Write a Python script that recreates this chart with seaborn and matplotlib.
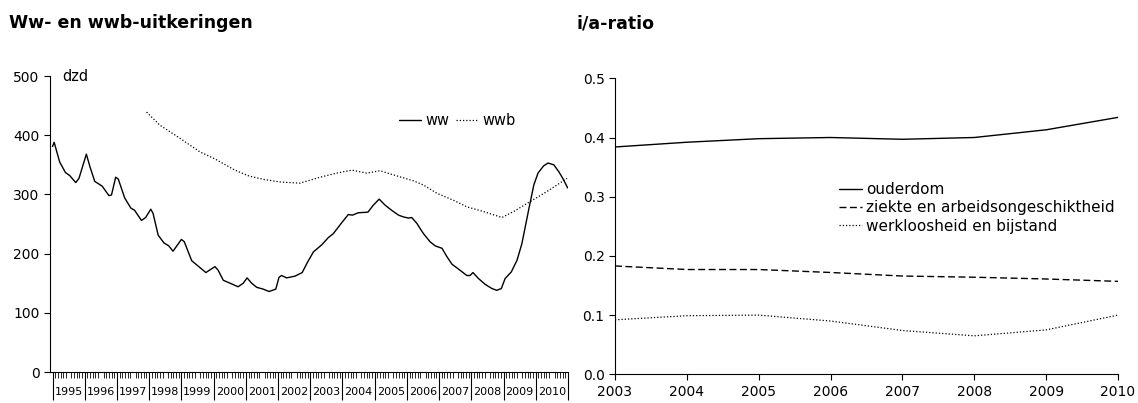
import numpy as np
import pandas as pd
import matplotlib
matplotlib.use("Agg")
import matplotlib.pyplot as plt
from matplotlib.ticker import FixedLocator, NullLocator
import seaborn as sns

# ww (monthly, read at turning points), decimal years / dzd
ww_t = [1995.00, 1995.05, 1995.22, 1995.40, 1995.53, 1995.72, 1995.82,
        1996.05, 1996.16, 1996.31, 1996.54, 1996.75, 1996.83, 1996.96,
        1997.04, 1997.24, 1997.43, 1997.55, 1997.76, 1997.89,
        1998.05, 1998.12, 1998.28, 1998.46, 1998.61, 1998.74,
        1999.00, 1999.09, 1999.32, 1999.54, 1999.76,
        2000.04, 2000.14, 2000.30, 2000.51, 2000.76, 2000.92,
        2001.04, 2001.18, 2001.34, 2001.54, 2001.72, 2001.93,
        2002.03, 2002.11, 2002.27, 2002.53, 2002.75, 2002.92,
        2003.10, 2003.36, 2003.56, 2003.72, 2003.96,
        2004.18, 2004.31, 2004.49, 2004.79, 2004.96,
        2005.14, 2005.32, 2005.53, 2005.74, 2005.89,
        2006.05, 2006.15, 2006.31, 2006.51, 2006.72, 2006.88,
        2007.09, 2007.24, 2007.40, 2007.60, 2007.86, 2007.96,
        2008.05, 2008.22, 2008.43, 2008.64, 2008.79, 2008.93,
        2009.05, 2009.24, 2009.42, 2009.57, 2009.78, 2009.94,
        2010.07, 2010.24, 2010.38, 2010.56, 2010.72, 2010.87, 2010.99]
ww_v = [381, 388, 355, 337, 332, 320, 327,
        368, 347, 322, 314, 298, 299, 329,
        326, 294, 277, 273, 256, 261,
        275, 268, 231, 218, 213, 204,
        224, 220, 188, 178, 168,
        178, 172, 155, 150, 144, 150,
        159, 150, 143, 140, 136, 140,
        160, 163, 159, 162, 168, 186,
        203, 215, 227, 234, 251,
        266, 265, 269, 270, 282,
        292, 282, 273, 265, 262,
        260, 261, 251, 234, 220, 213,
        209, 195, 182, 174, 163, 163,
        168, 158, 148, 141, 138, 141,
        158, 169, 189, 217, 274, 316,
        336, 348, 353, 350, 338, 324, 311]

wwb_t = [1997.92, 1998.33, 1998.95, 1999.57, 2000.04, 2000.66, 2001.10,
         2001.59, 2002.06, 2002.68, 2003.30, 2003.82, 2004.29, 2004.75,
         2005.17, 2005.58, 2006.20, 2006.51, 2006.93, 2007.45, 2007.86,
         2008.38, 2008.95, 2009.31, 2009.83, 2010.35, 2010.97]
wwb_v = [439, 417, 395, 372, 360, 341, 331,
         325, 321, 319, 329, 336, 341, 336,
         340, 333, 323, 316, 302, 290, 279,
         271, 261, 271, 288, 305, 327]

# i/a-ratio
jaren = [2003, 2004, 2005, 2006, 2007, 2008, 2009, 2010]
ouderdom = [0.384, 0.392, 0.398, 0.400, 0.397, 0.400, 0.413, 0.434]
ziekte = [0.183, 0.177, 0.177, 0.172, 0.166, 0.164, 0.161, 0.157]
werkloosheid = [0.092, 0.099, 0.100, 0.090, 0.074, 0.065, 0.075, 0.100]

sns.set_style("ticks", {"axes.edgecolor": "black", "text.color": "black",
                        "xtick.color": "black", "ytick.color": "black",
                        "axes.labelcolor": "black"})
plt.rcParams["font.family"] = ["DejaVu Sans"]

fig = plt.figure(figsize=(11.38, 4.03), dpi=100)
ax1 = fig.add_axes([0.0439, 0.0769, 0.4552, 0.7345])
ax2 = fig.add_axes([0.5404, 0.0712, 0.4420, 0.7345])

# --- left panel ---
sns.lineplot(x=ww_t, y=ww_v, ax=ax1, color="black", lw=1.0, label="ww", sort=False)
sns.lineplot(x=wwb_t, y=wwb_v, ax=ax1, color="black", lw=0.9,
             linestyle=(0, (1, 1.6)), label="wwb", sort=False)
ax1.set_xlim(1994.92, 2011.0)
ax1.set_ylim(0, 500)
ax1.set_yticks([0, 100, 200, 300, 400, 500])
ax1.tick_params(axis="y", labelsize=10, length=4, width=0.8, direction="out")

jr = np.arange(1995, 2011)
ax1.xaxis.set_major_locator(FixedLocator(jr + 0.5))
ax1.set_xticklabels([str(j) for j in jr])
ax1.xaxis.set_minor_locator(FixedLocator(np.arange(1995, 2011, 1 / 12)))
ax1.tick_params(axis="x", which="major", length=0, pad=11, labelsize=8)
ax1.tick_params(axis="x", which="minor", length=4, width=0.6, direction="out")

sec = ax1.secondary_xaxis("bottom")
sec.xaxis.set_major_locator(FixedLocator(np.arange(1995, 2012)))
sec.xaxis.set_minor_locator(NullLocator())
sec.tick_params(axis="x", length=20, width=0.8, labelbottom=False)
sec.spines["bottom"].set_visible(False)

ax1.set_xlabel("")
ax1.set_ylabel("")
ax1.text(0.023, 1.0, "dzd", transform=ax1.transAxes, fontsize=10.5, va="center", ha="left")
ax1.legend(loc="center", bbox_to_anchor=(0.786, 0.851), ncol=2, frameon=False,
           fontsize=10.5, handlelength=1.5, handletextpad=0.3, columnspacing=0.45)
sns.despine(ax=ax1)

# --- right panel ---
sns.lineplot(x=jaren, y=ouderdom, ax=ax2, color="black", lw=1.0, label="ouderdom")
sns.lineplot(x=jaren, y=ziekte, ax=ax2, color="black", lw=1.0,
             linestyle=(0, (5, 2.5)), label="ziekte en arbeidsongeschiktheid")
sns.lineplot(x=jaren, y=werkloosheid, ax=ax2, color="black", lw=0.9,
             linestyle=(0, (1, 1.6)), label="werkloosheid en bijstand")
ax2.set_xlim(2003, 2010)
ax2.set_ylim(0, 0.5)
ax2.set_xticks(jaren)
ax2.set_yticks([0.0, 0.1, 0.2, 0.3, 0.4, 0.5])
ax2.set_yticklabels(["0.0", "0.1", "0.2", "0.3", "0.4", "0.5"])
ax2.tick_params(labelsize=10, length=4, width=0.8, direction="out")
ax2.set_xlabel("")
ax2.set_ylabel("")
ax2.legend(loc="center left", bbox_to_anchor=(0.418, 0.562), frameon=False,
           fontsize=11, handlelength=1.5, handletextpad=0.3, labelspacing=0.22)
sns.despine(ax=ax2)

fig.text(0.008, 0.93, "Ww- en wwb-uitkeringen", fontsize=12.5, fontweight="bold", va="baseline")
fig.text(0.507, 0.93, "i/a-ratio", fontsize=12.5, fontweight="bold", va="baseline")

fig.savefig("out.png", dpi=100)
